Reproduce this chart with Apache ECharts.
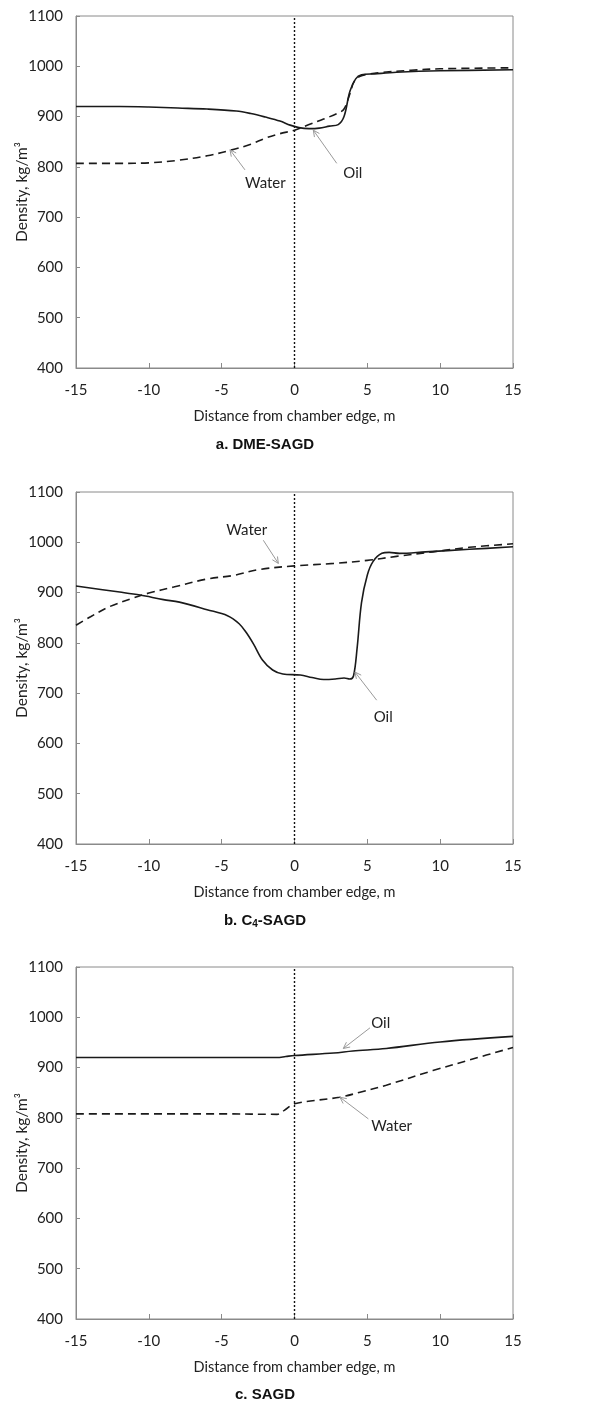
<!DOCTYPE html>
<html>
<head>
<meta charset="utf-8">
<script src="https://cdn.jsdelivr.net/npm/echarts@6/dist/echarts.min.js"></script>
<style>
  html, body { margin: 0; padding: 0; background: #fff; }
  #chart { width: 591px; height: 1406px; }
</style>
</head>
<body>
<div id="chart"></div>
<script>
// Density profiles across the steam-chamber edge for three processes.
// Each series is a list of [distance (m), density (kg/m3)] pairs.

const xTicks = [-15, -10, -5, 0, 5, 10, 15];
const yTicks = [400, 500, 600, 700, 800, 900, 1000, 1100];

// a. DME-SAGD
const dmeOil = [[-15,920],[-12,920],[-10,919],[-8,917],[-6,915],[-4,911],[-3,906],[-2,899],[-1,891],[-0.3,883],[0.3,878],[1,876],[1.7,877],[2.4,881],[3,884],[3.4,900],[3.8,950],[4.2,975],[4.6,983],[5.5,985],[7,988],[10,991],[15,993]];
const dmeWater = [[-15,807],[-12,807],[-10,808],[-8,813],[-6,822],[-4.4,833],[-3,845],[-2,857],[-1,866],[0,873],[1,884],[2,895],[3,907],[3.4,915],[3.8,945],[4.1,970],[4.5,980],[5,984],[6,988],[8,992],[10,995],[15,997]];

// b. C4-SAGD
const c4Oil = [[-15,913],[-12,901],[-10.6,895],[-9,886],[-7.9,881],[-6,866],[-4.6,854],[-3.8,838],[-3.3,820],[-2.8,797],[-2.2,766],[-1.5,746],[-0.8,738],[0.4,736],[1.2,731],[2,727],[2.8,728],[3.4,730],[3.8,728],[4.05,734],[4.3,790],[4.6,880],[5,935],[5.4,962],[6,978],[6.5,980],[7.2,978],[9,981],[12,986],[15,991]];
const c4Water = [[-15,835],[-14,852],[-12.7,872],[-11,890],[-10,899],[-8.3,911],[-6,927],[-4.2,934],[-2.4,946],[0,953],[2.7,958],[5,964],[7,972],[9.5,981],[12,990],[15,997]];

// c. SAGD
const sagdOil = [[-15,920],[-5,920],[-1.2,920],[-0.6,922],[0,924],[2.7,929],[4,933],[6.3,938],[10,951],[15,962]];
const sagdWater = [[-15,808],[-5,808],[-1.2,807],[-0.7,815],[0,828],[3.1,841],[4.5,851],[6.3,865],[9.5,894],[12,915],[15,940]];

// Callouts: label text, label anchor, arrow tail, arrow tip (all in data units)
const calloutsA = [
  { text: 'Water', at: [-2.0, 767], from: [-3.4, 794], to: [-4.43, 834] },
  { text: 'Oil',   at: [4.0,  788], from: [2.9, 807],  to: [1.29, 873] }
];
const calloutsB = [
  { text: 'Water', at: [-3.28, 1024], from: [-2.14, 1004], to: [-1.11, 958] },
  { text: 'Oil',   at: [6.09,  653],  from: [5.64, 686],   to: [4.15, 742] }
];
const calloutsC = [
  { text: 'Oil',   at: [5.92, 989], from: [5.18, 979], to: [3.35, 938] },
  { text: 'Water', at: [6.67, 783], from: [5.07, 798], to: [3.12, 841] }
];

const captions = ['a. DME-SAGD', 'b. C{s|4}-SAGD', 'c. SAGD'];
const xTitle = 'Distance from chamber edge, m';
const yTitle = 'Density, kg/m³';

const FONT = 'Lato, "Open Sans", sans-serif';
const gridTops = [16, 492, 967];
const gridH = 352;

const grids = gridTops.map(t => ({
  left: 76, right: 78, top: t, height: gridH,
  containLabel: false, outerBoundsMode: 'none',
  show: true, borderColor: '#8a8a8a', borderWidth: 1, backgroundColor: 'transparent'
}));

const xAxes = gridTops.map((t, i) => ({
  type: 'value', gridIndex: i, min: -15, max: 15, interval: 5,
  axisLine: { show: true, onZero: false, lineStyle: { color: '#8a8a8a', width: 1 } },
  axisTick: { show: true, inside: true, length: 5, lineStyle: { color: '#8a8a8a' } },
  splitLine: { show: false },
  axisLabel: { color: '#222', fontFamily: FONT, fontSize: 15, margin: 15,
    formatter: v => xTicks.includes(v) ? String(v) : '' },
  name: xTitle, nameLocation: 'middle', nameGap: 41, nameMoveOverlap: false,
  nameTextStyle: { color: '#222', fontFamily: FONT, fontSize: 14.5 }
}));

const yAxes = gridTops.map((t, i) => ({
  type: 'value', gridIndex: i, min: 400, max: 1100, interval: 100,
  axisLine: { show: true, onZero: false, lineStyle: { color: '#8a8a8a', width: 1 } },
  axisTick: { show: true, inside: true, length: 4, lineStyle: { color: '#8a8a8a' } },
  splitLine: { show: false },
  axisLabel: { color: '#222', fontFamily: FONT, fontSize: 15, margin: 13,
    formatter: v => yTicks.includes(v) ? String(v) : '' },
  name: yTitle, nameLocation: 'middle', nameGap: 46, nameRotate: 90, nameMoveOverlap: false,
  nameTextStyle: { color: '#222', fontFamily: FONT, fontSize: 15.5 }
}));

function curve(data, idx, dashed, withZeroLine) {
  const s = {
    type: 'line', xAxisIndex: idx, yAxisIndex: idx, data: data,
    showSymbol: false, smooth: 0.35, silent: true,
    lineStyle: { color: '#1a1a1a', width: 1.6, type: dashed ? [8, 5] : 'solid' },
    z: dashed ? 3 : 4
  };
  if (withZeroLine) {
    s.markLine = {
      silent: true, symbol: ['none', 'none'], label: { show: false },
      lineStyle: { color: '#111', width: 1.4, type: [2, 2] },
      data: [{ xAxis: 0 }]
    };
  }
  return s;
}

function callouts(list, idx) {
  return {
    type: 'custom', xAxisIndex: idx, yAxisIndex: idx, silent: true, z: 6,
    data: list.map((c, k) => [k]),
    renderItem: (params, api) => {
      const c = list[params.dataIndex];
      const a = api.coord(c.from), b = api.coord(c.to), p = api.coord(c.at);
      const ang = Math.atan2(b[1] - a[1], b[0] - a[0]);
      const L = 7, spread = 0.45;
      const h1 = [b[0] - L * Math.cos(ang - spread), b[1] - L * Math.sin(ang - spread)];
      const h2 = [b[0] - L * Math.cos(ang + spread), b[1] - L * Math.sin(ang + spread)];
      const st = { stroke: '#9a9a9a', lineWidth: 1, fill: null };
      return {
        type: 'group',
        children: [
          { type: 'line', shape: { x1: a[0], y1: a[1], x2: b[0], y2: b[1] }, style: st },
          { type: 'polyline', shape: { points: [h1, b, h2] }, style: st },
          { type: 'text', x: p[0], y: p[1],
            style: { text: c.text, fontFamily: FONT, fontSize: 15, fill: '#222',
                     align: 'center', verticalAlign: 'middle' } }
        ]
      };
    }
  };
}

const captionTops = [437, 912, 1387];
const titles = captions.map((txt, i) => ({
  text: txt, left: 265, top: captionTops[i], textAlign: 'center', padding: 0,
  textStyle: {
    fontFamily: '"Liberation Sans", Arial, sans-serif', fontSize: 15, fontWeight: 'bold', color: '#111',
    rich: { s: { fontFamily: '"Liberation Sans", Arial, sans-serif', fontSize: 10, fontWeight: 'bold',
                 color: '#111', padding: [7, 0, 0, 0] } }
  }
}));

const chart = echarts.init(document.getElementById('chart'), null, { renderer: 'canvas' });
chart.setOption({
  animation: false,
  backgroundColor: '#fff',
  title: titles,
  grid: grids,
  xAxis: xAxes,
  yAxis: yAxes,
  series: [
    curve(dmeOil, 0, false, true), curve(dmeWater, 0, true, false), callouts(calloutsA, 0),
    curve(c4Oil, 1, false, true), curve(c4Water, 1, true, false), callouts(calloutsB, 1),
    curve(sagdOil, 2, false, true), curve(sagdWater, 2, true, false), callouts(calloutsC, 2)
  ]
});
</script>
</body>
</html>
